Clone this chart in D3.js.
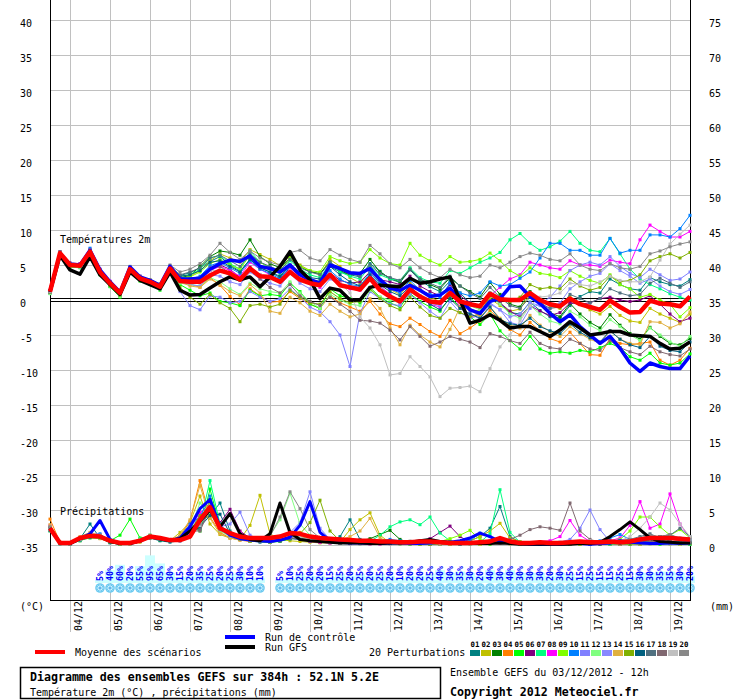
<!DOCTYPE html>
<html><head><meta charset="utf-8">
<script src="https://cdn.jsdelivr.net/npm/d3@7"></script>
<style>
body{margin:0;background:#fff}
svg{display:block}
text{font-family:"DejaVu Sans Mono",monospace;fill:#000}
</style>
</head><body>
<svg id="c" width="740" height="700"></svg>
<script>
// ---------- DATA ----------
const hours = d3.range(0, 385, 6);               // 65 time steps (run 03/12 12h, +0..384h)
const dayHours = [12,36,60,84,108,132,156,180,204,228,252,276,300,324,348,372];
const dateLabels = ["04/12","05/12","06/12","07/12","08/12","09/12","10/12","11/12","12/12","13/12","14/12","15/12","16/12","17/12","18/12","19/12"];
const tempTicks = [40,35,30,25,20,15,10,5,0,-5,-10,-15,-20,-25,-30,-35];
const mmTicks = [75,70,65,60,55,50,45,40,35,30,25,20,15,10,5,0];
const memberNames = ["01","02","03","04","05","06","07","08","09","10","11","12","13","14","15","16","17","18","19","20"];
const memberColors = ["#008080","#c0c000","#008000","#ff8000","#00ff00","#800080","#00ff80","#ff00ff","#80ff00","#0080ff","#8080ff","#80ff80","#8888ff","#e0b040","#80b000","#006080","#507080","#806870","#c0c0c0","#888888"];

// Temperature 2m (°C)
const tMean = [1.2,6.7,5.0,4.9,6.9,4.0,2.4,1.0,4.4,3.1,2.6,1.9,4.5, 2.7,2.6,2.6,3.5, 4.2,3.8,2.9,4.5, 3.4,3.3,2.6,4.0, 2.9,2.4,2.1,3.6, 2.1,1.8,1.5,3.1, 1.4,0.5,-0.2,1.5, 0.5,-0.2,-0.4,1.0, -0.2,-0.6,-0.9,0.9, 0.1,0,0,1.0, 0,-0.6,-0.9,0.2, -0.6,-1.0,-1.4,-0.1, -1.0,-1.8,-1.7,-0.1, -0.5,-0.6,-0.9,0.5];
const tControl = [1.2,6.6,5.1,5.0,7.1,4.3,2.6,1.1,4.7,3.3,2.8,2.1,4.8, 3.0,3.0,3.1,4.4, 5.2,5.7,5.5,6.3, 4.8,4.5,4.0,5.0, 3.6,2.9,2.4,5.0, 4.5,3.9,3.8,4.5, 2.9,1.7,1.4,2.1, 1.4,0.5,0.7,1.7, 0.0,-1.4,-1.9,-0.2, 0.2,1.9,2.0,0.5, -0.5,-1.9,-3.1,-2.1, -3.8,-5.0,-6.2,-5.2, -6.9,-9.0,-10.2,-9.0, -9.5,-9.8,-9.8,-8.0];
const tGFS = [1.2,6.4,4.3,3.7,6.2,3.6,2.2,0.8,4.0,2.8,2.2,1.6,4.0, 1.4,0.7,0.8,1.7, 2.6,3.3,2.9,3.3, 1.9,3.3,4.8,6.9, 4.3,2.9,0.2,1.7, 1.4,0.0,0.0,1.8, 2.1,2.0,1.9,3.1, 2.4,2.6,3.0,3.3, 0.0,-3.3,-2.9,-2.1, -2.9,-4.0,-3.8,-3.8, -4.5,-5.2,-4.3,-3.1, -4.0,-5.0,-4.8,-4.5, -4.5,-5.0,-5.1,-5.2, -6.2,-7.0,-6.9,-6.0];
const tP01 = [1.0,6.5,5.2,5.1,7.2,4.3,2.0,0.6,4.8,3.4,2.8,2.2,4.9, 3.5,3.9,4.6,5.5, 6.2,5.0,4.1,5.8, 4.6,4.0,3.2,5.0, 3.9,3.0,2.6,4.8, 4.0,3.6,3.3,5.2, 4.1,3.0,2.5,4.3, 2.8,1.9,1.2,2.7, 1.0,-0.4,-1.2,1.0, -0.5,-1.8,-2.0,-0.3, -1.5,-2.4,-2.6,-0.8, 0.5,1.2,1.0,3.0, 2.2,1.6,1.4,3.2, 2.6,2.2,2.0,2.9];
const tP02 = [1.3,6.8,5.1,5.0,7.0,4.1,2.6,1.2,4.6,3.3,2.9,2.3,4.2, 3.0,3.4,4.2,5.6, 6.6,6.0,5.4,7.2, 6.5,5.8,4.9,6.3, 5.0,4.2,3.6,5.8, 4.8,3.2,2.4,4.1, 2.6,1.5,0.8,2.4, 1.6,0.4,-0.2,1.2, -0.4,-1.4,-1.6,0.2, -0.8,-1.6,-1.3,0.8, 0.1,-0.9,-1.2,0.5, -0.6,-1.4,-2.0,-0.9, -2.2,-3.0,-3.2,-1.2, -2.0,-2.6,-3.2,-2.0];
const tP03 = [1.1,6.6,4.9,4.8,6.8,4.0,2.3,0.9,4.3,3.0,2.4,1.7,4.4, 3.2,3.5,4.8,6.2, 7.0,6.8,6.4,8.6, 6.2,5.2,4.6,6.0, 4.8,4.0,3.8,5.4, 4.2,3.6,3.8,5.8, 4.0,3.1,2.6,4.4, 3.0,2.2,1.6,3.2, 2.0,1.2,0.4,2.5, 0.8,-0.6,-1.0,1.2, -0.2,-1.8,-2.4,-0.5, -2.0,-3.2,-4.0,-2.1, -3.6,-4.8,-5.6,-3.9, -5.2,-6.2,-6.4,-5.5];
const tP04 = [1.2,6.9,5.2,5.0,6.9,3.8,2.2,0.8,4.2,2.9,2.4,1.8,4.3, 2.6,2.3,1.8,3.2, 2.1,0.5,-0.7,1.6, 0.6,-0.3,-0.2,1.2, 0.2,-0.6,-1.2,0.6, -0.4,-1.0,-1.6,-0.2, -2.0,-3.4,-3.8,-2.6, -3.5,-4.5,-5.2,-2.9, -4.8,-4.0,-3.0,-1.5, -2.8,-4.2,-5.0,-3.2, -4.4,-5.5,-6.0,-4.6, -6.2,-7.8,-7.9,-5.5, -6.2,-6.4,-6.2,-6.0, -8.6,-9.3,-8.6,-6.9];
const tP05 = [1.0,6.4,4.7,4.6,6.6,3.6,1.9,0.4,4.1,2.7,2.2,1.4,4.0, 2.2,1.4,0.6,1.0, -0.2,-0.4,-0.8,1.4, 0.6,0.8,0.6,2.4, 1.2,-0.6,-1.2,1.6, 0.6,0.2,-0.4,1.8, 0.4,-0.4,-1.0,0.9, -0.2,-1.0,-1.6,0.4, -1.0,-2.4,-3.5,-2.0, -4.4,-5.8,-7.0,-5.2, -7.0,-7.6,-7.4,-7.6, -7.2,-7.4,-6.8,-6.2, -6.8,-8.1,-8.6,-7.6, -9.0,-9.3,-9.0,-7.7];
const tP06 = [1.3,6.7,5.3,5.2,7.1,4.2,2.5,1.1,4.5,3.2,2.7,2.0,4.6, 3.0,2.8,2.9,4.2, 5.0,4.4,3.2,4.7, 3.6,3.2,3.0,4.6, 3.4,2.6,2.2,3.9, 2.8,2.4,2.6,4.0, 2.9,2.6,2.2,3.4, 2.0,1.2,0.6,2.2, 0.6,-0.4,-0.8,0.8, -0.4,-1.6,-2.4,-0.8, -1.6,-2.2,-1.8,-0.4, -0.6,-0.4,0.2,0.4, 0.0,-0.2,0.0,0.6, -0.6,-2.0,-3.1,-2.6];
const tP07 = [1.1,6.6,5.0,4.9,6.8,4.1,2.3,0.8,4.4,3.0,2.6,2.0,4.6, 3.4,3.6,4.4,6.0, 6.4,5.2,4.4,7.0, 5.4,4.6,3.8,5.6, 4.4,3.6,3.2,5.2, 4.0,3.4,3.0,4.8, 3.6,3.0,2.8,4.6, 3.2,2.6,2.4,4.2, 3.8,4.6,5.4,6.0, 6.8,8.6,9.5,8.1, 7.1,7.6,8.4,9.8, 8.1,7.1,6.9,8.8, 6.6,4.4,3.0,2.2, 1.6,0.9,0.4,0.0];
const tP08 = [1.4,6.9,5.1,5.2,7.3,4.4,2.7,1.3,4.7,3.4,2.8,2.1,4.8, 3.3,2.8,2.9,4.2, 4.8,4.2,3.4,5.4, 4.4,3.6,2.8,4.4, 3.2,2.4,1.8,3.4, 2.4,1.6,1.4,3.6, 2.0,0.8,-0.4,1.6, 0.4,-0.6,-1.0,1.2, -1.0,-2.4,-2.0,0.6, 1.8,3.0,3.6,5.4, 5.0,4.6,4.4,5.6, 5.0,5.0,4.8,5.7, 5.4,5.2,8.6,10.7, 9.8,9.0,9.0,9.8];
const tP09 = [1.2,6.6,4.9,4.8,6.8,4.0,2.4,1.0,4.4,3.1,2.5,1.9,4.5, 3.1,3.3,4.0,5.2, 5.8,5.0,4.4,6.4, 5.4,4.6,4.2,6.0, 4.8,4.2,4.0,6.2, 5.6,5.2,5.4,7.2, 6.0,5.2,5.0,8.1, 6.4,5.6,5.0,6.2, 5.4,5.5,5.8,6.7, 5.6,4.2,3.4,4.6, 3.8,3.6,3.2,4.2, 3.4,2.8,2.4,3.6, 2.2,1.6,0.4,0.8, 0.0,-0.6,-2.4,-1.1];
const tP10 = [1.2,6.8,5.2,5.0,7.4,4.3,2.5,1.0,4.6,3.2,2.7,2.1,4.7, 3.2,3.0,3.4,4.9, 5.4,4.6,3.8,5.6, 4.4,3.8,3.0,4.8, 3.6,2.8,2.2,4.2, 3.0,2.2,2.0,3.9, 2.4,1.6,1.0,2.8, 1.4,0.8,0.4,2.4, 1.0,0.6,1.0,2.6, 2.0,2.2,3.1,4.0, 6.0,8.1,8.1,7.1, 7.1,6.4,6.4,8.8, 6.7,7.1,7.1,9.3, 9.3,9.0,10.2,12.1];
const tP11 = [1.0,6.5,4.8,4.7,6.7,3.9,2.2,0.7,4.2,2.9,2.3,1.6,4.2, 1.2,-0.8,-1.4,0.6, 0.4,-0.4,-0.2,1.2, 0.4,-0.2,0.2,1.6, 0.4,-1.0,-1.7,-3.1, -5.0,-9.5,-1.9,1.2, 0.2,-0.6,-0.8,1.4, 0.6,-0.4,-0.8,1.6, 0.2,-1.8,-2.8,-0.6, -1.4,-3.2,-3.6,-1.2, -0.6,0.4,2.0,4.2, 5.0,5.4,5.0,6.2, 4.8,3.8,3.2,4.4, 3.6,2.8,3.0,4.0];
const tP12 = [0.9,6.3,4.8,4.7,6.5,3.7,2.0,0.5,4.0,2.8,2.3,1.6,4.2, 2.4,2.2,2.0,3.2, 2.6,1.6,0.8,2.4, 1.6,1.2,1.0,2.6, 1.0,-0.2,-1.2,0.8, 0.0,-0.6,-0.8,1.4, 0.4,0.0,-0.4,1.2, 0.6,0.0,-0.4,1.6, 0.2,-0.8,-1.4,0.6, -0.6,-2.0,-2.6,-0.8, -2.0,-3.0,-3.4,-1.6, -2.4,-3.6,-4.4,-2.8, -3.8,-5.0,-5.8,-4.0, -5.0,-6.0,-6.6,-5.2];
const tP13 = [1.3,6.7,5.0,5.0,6.9,4.0,2.5,1.0,4.4,3.0,2.7,1.9,4.4, 2.6,2.2,2.0,3.6, 3.4,2.6,2.2,4.0, 3.0,2.4,2.0,3.8, 2.4,1.6,1.2,3.0, 2.2,1.8,2.0,3.6, 2.0,0.6,-0.6,0.8, -0.4,-1.6,-2.6,-0.2, -1.8,-2.6,-2.2,-0.4, -1.4,-2.4,-2.0,-0.4, -0.8,-1.2,-0.4,1.6, 2.6,3.4,3.8,5.2, 4.2,3.4,2.4,3.0, 2.0,1.2,0.8,1.5];
const tP14 = [1.2,6.8,5.1,4.9,6.9,3.9,2.3,0.9,4.3,3.0,2.5,1.8,4.3, 2.6,2.0,1.8,3.0, 2.2,1.2,0.6,2.2, 1.0,-1.6,-1.9,0.4, -0.4,-1.6,-2.2,-0.6, -1.6,-2.4,-2.0,0.2, -1.2,-4.0,-6.4,-3.6, -5.0,-6.0,-6.7,-4.2, -1.0,-1.4,-2.4,-1.0, -2.6,-3.6,-4.0,-2.2, -3.6,-4.5,-5.2,-3.8, -4.8,-5.6,-6.2,-4.4, -5.6,-6.2,-6.4,-3.1, -3.2,-4.0,-3.4,-1.7];
const tP15 = [1.1,6.5,4.8,4.8,6.7,3.8,2.1,0.7,4.2,2.9,2.4,1.7,4.1, 1.8,0.4,-0.6,0.8, -0.4,-1.2,-3.1,-0.8, -0.6,-1.0,-0.6,1.4, 0.4,-0.4,-0.6,1.2, 0.2,-0.4,-0.2,1.6, 0.2,-0.8,-1.4,0.4, -1.0,-2.2,-2.6,-1.2, -1.8,-2.4,-2.0,0.6, 0.4,-0.2,0.4,2.2, 1.6,1.8,1.6,3.0, 2.0,1.4,1.8,3.4, 2.6,2.8,3.6,5.6, 6.2,6.6,6.0,6.8];
const tP16 = [1.2,6.7,5.0,4.9,6.9,4.0,2.4,1.0,4.4,3.1,2.6,1.9,4.5, 3.4,3.6,4.2,5.4, 5.6,4.8,4.0,5.8, 4.6,4.0,3.4,5.0, 3.8,3.2,3.0,4.8, 3.6,2.6,2.0,3.6, 2.2,1.2,0.6,2.0, 0.4,-0.6,-1.4,0.2, -1.2,-2.0,-2.6,-1.0, -2.8,-3.4,-3.6,-2.6, -3.8,-4.4,-4.8,-3.4, -4.6,-5.4,-6.0,-4.4, -5.6,-6.4,-6.8,-5.2, -6.6,-7.2,-7.4,-6.0];
const tP17 = [1.3,6.9,5.2,5.1,7.1,4.2,2.6,1.2,4.6,3.3,2.8,2.1,4.7, 3.6,4.0,4.6,6.0, 6.4,5.6,4.8,6.6, 5.4,4.8,4.2,5.8, 4.6,4.0,3.6,5.4, 4.4,3.8,3.4,5.0, 3.8,3.2,2.8,4.4, 3.0,2.4,1.8,3.4, 2.0,1.0,0.2,1.8, 0.4,-0.8,-1.2,0.4, -0.4,-1.2,-1.0,0.8, 0.2,-0.4,0.2,1.6, 1.0,0.6,0.8,2.4, 3.1,2.4,1.8,2.6];
const tP18 = [1.1,6.6,4.9,4.9,6.8,3.9,2.3,0.9,4.3,3.0,2.5,1.8,4.4, 3.0,2.8,3.2,4.6, 4.8,3.8,2.8,4.2, 3.0,1.8,1.0,2.2, 0.6,-0.2,-0.8,0.4, -0.6,-1.6,-2.9,-3.0, -3.3,-4.3,-5.7,-3.8, -5.2,-6.6,-6.0,-5.2, -5.6,-6.0,-6.8,-4.8, -5.2,-5.8,-6.2,-4.6, -6.2,-6.8,-7.0,-5.6, -6.2,-7.0,-7.2,-5.8, -6.8,-7.4,-7.8,-6.6, -7.4,-7.8,-8.0,-7.0];
const tP19 = [1.2,6.7,5.1,5.0,7.0,4.1,2.4,1.0,4.5,3.2,2.7,2.0,4.6, 3.0,2.6,2.8,4.2, 4.2,3.4,2.8,4.4, 3.6,3.0,2.6,4.2, 3.2,2.6,2.2,3.8, 2.4,1.0,-2.4,-4.0, -6.4,-10.7,-10.5,-8.1, -9.5,-11.0,-13.8,-12.6, -12.5,-12.3,-13.1,-9.8, -6.7,-5.0,-3.0,-0.8, 0.4,0.6,1.0,2.4, 2.2,2.0,2.6,3.4, 2.8,2.6,2.6,3.3, 5.7,8.0,9.4,10.7];
const tP20 = [1.3,6.8,5.1,5.1,7.2,4.4,2.6,1.1,4.7,3.4,2.9,2.2,5.0, 4.0,4.4,5.2,6.4, 8.1,6.8,5.8,7.0, 6.0,5.4,5.0,6.8, 7.1,6.0,5.6,7.2, 6.4,5.8,5.4,7.8, 6.6,5.2,4.6,5.8, 4.6,3.8,3.2,4.4, 3.6,3.2,3.4,5.0, 4.6,5.4,6.2,6.7, 6.4,5.8,5.6,6.6, 5.0,4.4,4.2,5.2, 4.6,4.4,4.8,6.6, 7.0,7.6,8.0,8.3];

// Precipitation (mm per 6h)
const pMean = [2.4,0.3,0.3,1.0,1.3, 1.2,0.6,0.3,0.3,0.6, 1.2,1.0,0.7,0.7,1.2, 3.6,5.4,2.4,1.7,1.2, 1.0,1.0,1.0,1.2,1.7, 1.6,1.2,1.0,0.9,0.8, 0.7,0.6,0.6,0.5,0.5, 0.4,0.4,0.5,0.5,0.4, 0.3,0.3,0.3,0.4,0.5, 1.0,0.5,0.3,0.3,0.4, 0.3,0.3,0.4,0.5,0.4, 0.4,0.5,0.4,0.5,0.8, 1.0,1.0,1.0,0.9,0.8];
const pControl = [2.3,0.3,0.2,0.9,1.6, 3.5,0.8,0.2,0.2,0.6, 1.2,0.9,0.6,1.0,2.6, 5.2,6.5,2.6,1.4,0.9, 0.7,0.6,0.5,0.7,1.1, 2.8,6.2,1.8,0.6,0.4, 0.3,0.3,0.2,0.2,0.3, 0.3,0.2,0.2,0.3,0.4, 0.4,0.6,1.0,1.7,1.2, 0.5,0.3,0.2,0.1,0.1, 0.1,0.1,0.2,0.2,0.1, 0.2,0.3,0.6,0.4,0.3, 0.2,0.2,0.3,0.2,0.3];
const pGFS = [2.4,0.3,0.2,0.9,1.4, 1.2,0.5,0.2,0.2,0.6, 1.2,0.9,0.6,0.9,2.0, 3.4,5.0,2.6,4.5,1.6, 0.8,0.6,1.6,6.0,1.8, 0.8,0.6,0.5,0.4,0.3, 0.3,0.3,0.2,0.2,0.3, 0.3,0.4,0.6,0.8,0.5, 0.4,0.3,0.3,0.2,0.2, 0.3,0.2,0.1,0.1,0.1, 0.1,0.1,0.1,0.2,0.2, 0.4,1.2,2.2,3.3,2.2, 1.0,0.5,0.4,0.3,0.3];
const pP01 = [2.0,0.2,0.1,0.9,3.0, 1.0,0.3,0.1,0.2,0.5, 1.0,0.6,0.4,0.6,1.5, 3.5,4.2,6.0,2.0,1.0, 0.6,0.4,0.5,0.8,1.2, 1.0,0.6,0.4,0.5,1.2, 3.6,0.8,0.3,0.2,0.4, 0.3,0.2,0.1,0.2,0.3, 0.2,0.3,0.6,1.2,2.4, 5.5,1.2,0.4,0.2,0.1, 0.1,0.2,0.1,0.2,0.1, 0.2,0.3,0.2,0.4,0.3, 0.8,1.2,1.5,0.8,0.5];
const pP02 = [2.6,0.3,0.2,1.0,1.6, 1.3,0.5,0.2,0.1,0.4, 1.3,1.0,0.6,1.8,3.2, 7.0,3.0,1.5,1.0,0.8, 2.8,7.1,1.6,0.8,0.6, 0.5,0.4,0.3,0.3,0.4, 2.2,3.6,4.6,1.4,0.3, 0.2,0.2,0.1,0.1,0.2, 0.3,0.4,0.6,1.2,2.0, 3.1,1.0,0.5,0.3,0.2, 0.2,0.1,0.1,0.2,0.1, 0.1,0.2,0.1,0.2,0.2, 0.3,0.4,0.3,0.2,0.2];
const pP03 = [2.3,0.3,0.2,0.6,1.2, 1.4,0.4,0.1,0.3,0.8, 1.4,0.9,0.5,0.9,2.2, 2.4,6.5,2.8,1.2,0.8, 0.6,0.5,0.4,0.6,1.0, 0.9,0.6,0.5,0.4,0.4, 0.4,0.6,0.9,1.5,2.1, 0.8,0.3,0.2,0.1,0.1, 0.1,0.1,0.2,0.2,0.3, 0.6,0.4,0.2,0.1,0.1, 0.1,0.1,0.2,0.3,0.4, 0.5,0.3,0.2,0.2,0.1, 0.2,0.3,0.2,0.3,0.2];
const pP04 = [3.7,0.4,0.2,0.8,1.1, 0.9,0.4,0.1,0.2,0.5, 1.0,0.8,0.6,1.2,3.4, 9.2,4.0,1.8,1.0,0.7, 0.5,0.6,0.8,1.2,1.6, 1.8,1.2,0.8,0.6,0.4, 0.3,0.3,0.2,0.3,0.3, 0.2,0.2,0.3,0.4,0.2, 0.1,0.1,0.2,0.1,0.2, 0.4,0.2,0.1,0.1,0.1, 0.2,0.1,0.1,0.1,0.2, 0.1,0.1,0.2,0.1,0.2, 0.3,0.2,0.2,0.1,0.1];
const pP05 = [2.2,0.2,0.2,0.7,1.0, 1.0,0.6,1.4,3.7,1.0, 1.1,0.7,0.5,0.8,2.6, 2.0,8.0,2.6,1.4,0.9, 0.6,0.5,0.4,0.5,0.9, 1.2,0.8,0.6,0.4,0.3, 0.3,0.2,0.3,0.4,0.3, 0.2,0.1,0.2,0.2,0.3, 0.3,0.2,0.2,0.1,0.1, 0.5,0.2,0.1,0.1,0.1, 0.1,0.1,0.1,0.2,0.1, 0.2,0.1,0.1,0.1,0.2, 0.2,0.1,0.2,0.1,0.1];
const pP06 = [2.5,0.3,0.3,1.1,1.5, 1.2,0.5,0.2,0.2,0.5, 1.3,0.9,0.5,0.6,1.8, 4.0,4.8,3.2,5.1,2.0, 1.0,0.6,0.5,0.8,1.2, 1.0,0.6,0.4,0.3,0.3, 0.2,0.3,0.3,0.2,0.2, 0.3,0.4,0.6,0.9,1.8, 2.7,1.2,0.4,0.2,0.2, 0.3,0.2,0.2,0.1,0.1, 0.1,0.2,0.3,0.2,0.1, 0.1,0.2,0.1,0.2,0.3, 0.5,0.4,0.3,0.2,0.2];
const pP07 = [2.1,0.2,0.2,0.8,1.2, 1.1,0.4,0.1,0.3,0.9, 1.2,0.8,0.5,0.8,2.0, 3.0,9.2,3.0,1.2,0.8, 0.6,0.5,0.4,0.7,1.2, 1.0,0.7,0.5,0.4,0.3, 0.2,0.3,0.5,1.4,2.6, 3.3,3.6,2.9,4.0,1.7, 0.6,0.3,0.2,0.4,1.6, 7.9,1.8,0.4,0.2,0.1, 0.1,0.2,0.1,0.1,0.2, 0.2,0.1,0.2,0.3,0.2, 0.3,0.2,0.2,0.1,0.1];
const pP08 = [2.8,0.3,0.2,1.0,1.7, 1.5,0.6,0.2,0.3,0.6, 1.1,0.9,0.7,1.0,2.4, 4.6,5.8,2.2,4.4,1.8, 0.8,0.6,0.4,0.6,1.0, 0.8,0.5,0.4,0.3,0.3, 0.2,0.2,0.1,0.1,0.2, 0.3,0.2,0.4,0.5,0.4, 0.3,0.2,0.3,0.4,0.6, 0.4,0.3,0.2,0.3,0.5, 0.6,1.2,3.5,1.4,0.5, 0.4,0.6,1.0,2.8,6.2, 2.4,3.0,7.3,3.0,1.0];
const pP09 = [2.4,0.3,0.2,0.9,1.3, 1.2,0.5,0.2,0.2,0.6, 1.2,1.0,0.6,1.0,2.6, 3.2,6.0,2.6,1.4,1.0, 0.8,0.6,0.5,0.7,1.0, 0.9,0.7,0.5,0.4,0.4, 0.3,0.3,0.2,0.2,0.3, 0.2,0.2,0.2,0.3,0.5, 0.9,1.4,2.1,0.8,0.3, 0.4,0.2,0.2,0.1,0.1, 0.2,0.1,0.1,0.2,0.3, 0.5,0.4,0.8,2.0,4.0, 4.0,2.6,1.4,2.2,1.0];
const pP10 = [2.2,0.2,0.2,0.7,1.4, 1.6,0.5,0.2,0.2,0.5, 1.1,0.8,0.6,1.2,3.0, 4.0,7.0,2.8,1.4,0.9, 0.7,0.5,0.4,0.6,0.9, 1.0,0.9,0.7,0.5,0.4, 0.3,0.4,0.5,0.6,0.8, 0.6,0.4,0.3,0.2,0.2, 0.3,0.4,0.6,1.7,1.2, 0.6,0.3,0.2,0.1,0.2, 0.2,0.1,0.1,0.3,0.4, 0.6,1.0,1.5,0.8,0.4, 0.3,0.4,0.5,0.3,0.2];
const pP11 = [2.5,0.3,0.2,1.0,1.5, 1.3,0.5,0.2,0.2,0.7, 1.3,0.9,0.6,0.8,1.6, 3.2,5.5,2.6,3.0,4.7, 1.4,0.8,0.6,0.9,1.8, 3.2,7.6,2.4,0.8,0.5, 0.4,0.4,0.3,0.3,0.2, 0.2,0.2,0.2,0.3,0.3, 0.2,0.2,0.3,0.3,0.4, 0.6,0.4,0.3,0.2,0.2, 0.3,0.4,0.8,2.4,5.0, 2.2,0.5,0.3,0.2,0.2, 0.3,0.4,0.3,0.5,0.8];
const pP12 = [2.0,0.2,0.2,0.6,1.1, 1.0,0.4,0.2,0.3,0.8, 1.4,1.0,0.7,1.0,2.2, 6.0,4.6,2.0,1.2,0.9, 0.8,0.9,1.4,3.6,7.4, 3.0,1.4,0.8,0.5,0.4, 0.3,0.2,0.2,0.3,0.2, 0.2,0.2,0.1,0.2,0.2, 0.2,0.3,0.3,0.4,0.5, 0.4,0.3,0.2,0.2,0.2, 0.2,0.3,0.2,0.3,0.4, 0.3,0.2,0.3,0.4,0.3, 0.4,0.3,0.4,0.5,0.6];
const pP13 = [2.3,0.3,0.2,0.8,1.3, 1.2,0.5,0.2,0.2,0.6, 1.2,0.8,0.6,1.0,2.8, 3.8,5.0,2.2,1.3,0.9, 0.7,0.6,0.5,0.7,1.1, 1.0,0.7,0.5,0.5,0.4, 0.4,0.3,0.3,0.4,0.5, 0.4,0.3,0.2,0.2,0.2, 0.3,0.2,0.2,0.3,0.3, 0.5,0.3,0.2,0.2,0.1, 0.2,0.2,0.3,0.2,0.2, 0.3,0.2,0.2,0.3,0.3, 0.2,0.3,0.3,0.2,0.6];
const pP14 = [2.9,0.4,0.3,1.2,1.8, 1.4,0.6,0.3,0.2,0.5, 1.0,0.9,0.6,1.4,3.6, 8.5,3.8,1.6,1.0,0.7, 0.6,0.8,1.0,1.2,1.4, 1.2,0.8,0.6,0.5,0.7, 1.2,2.0,3.8,1.0,0.4, 0.3,0.2,0.2,0.1,0.1, 0.1,0.2,0.2,0.1,0.2, 0.3,0.2,0.1,0.1,0.1, 0.1,0.2,0.1,0.1,0.2, 0.1,0.2,0.1,0.2,0.1, 0.2,0.3,0.2,0.1,0.2];
const pP15 = [2.4,0.3,0.2,0.8,1.2, 1.1,0.4,0.1,0.2,0.5, 1.1,0.8,0.5,0.7,2.0, 4.2,5.0,2.4,1.2,0.8, 0.6,0.5,0.4,0.6,1.0, 1.6,3.2,6.4,2.0,0.6, 0.4,0.3,0.2,0.2,0.2, 0.2,0.2,0.1,0.1,0.2, 0.2,0.3,0.2,0.2,0.3, 0.4,0.3,0.2,0.1,0.1, 0.1,0.2,0.2,0.1,0.2, 0.2,0.2,0.3,0.2,0.2, 0.3,0.3,0.4,0.3,0.2];
const pP16 = [2.1,0.2,0.2,0.7,1.1, 1.1,0.4,0.2,0.2,0.5, 1.0,0.7,0.5,0.8,2.4, 2.6,4.2,4.4,1.6,1.0, 0.7,0.6,0.5,0.6,0.9, 0.8,0.6,0.5,0.4,0.3, 0.3,0.3,0.2,0.2,0.3, 0.2,0.2,0.3,0.2,0.2, 0.2,0.1,0.2,0.3,0.4, 0.6,0.3,0.2,0.1,0.1, 0.1,0.1,0.2,0.2,0.1, 0.1,0.2,0.2,0.3,0.4, 0.6,1.2,0.5,0.4,0.3];
const pP17 = [2.2,0.2,0.2,0.8,1.2, 1.2,0.5,0.2,0.2,0.5, 1.1,0.8,0.6,0.9,2.2, 2.2,5.6,2.4,1.3,0.9, 0.7,0.5,0.5,0.7,1.0, 0.9,0.6,0.5,0.4,0.3, 0.3,0.2,0.2,0.3,0.3, 0.2,0.3,0.3,0.2,0.2, 0.2,0.2,0.3,0.3,0.3, 0.4,0.3,0.3,0.2,0.2, 0.2,0.3,0.2,0.3,0.3, 0.4,0.5,0.6,0.8,1.2, 1.6,1.0,1.4,2.4,1.2];
const pP18 = [2.3,0.3,0.2,0.9,1.4, 1.2,0.5,0.2,0.3,0.6, 1.2,0.9,0.6,0.9,2.0, 2.0,5.2,2.4,1.3,0.9, 0.7,0.6,0.5,0.7,1.0, 0.9,0.7,0.5,0.4,0.3, 0.3,0.2,0.2,0.2,0.3, 0.3,0.2,0.3,0.4,0.3, 0.4,0.3,0.3,0.4,0.4, 0.6,0.8,1.4,2.2,2.6, 2.4,2.1,6.0,2.0,0.8, 0.4,0.3,0.3,0.4,0.4, 0.5,0.6,0.8,0.6,0.4];
const pP19 = [2.2,0.3,0.2,0.8,1.3, 1.2,0.5,0.2,0.2,0.6, 1.2,0.9,0.6,0.9,2.2, 2.8,5.6,2.4,1.2,0.9, 0.7,0.6,0.5,0.8,1.2, 1.1,0.8,0.6,0.4,0.3, 0.3,0.3,0.2,0.3,0.4, 0.4,0.6,0.5,0.3,0.2, 0.3,0.2,0.3,0.4,0.6, 0.8,0.5,0.3,0.2,0.2, 0.3,0.4,0.3,0.4,0.6, 0.5,0.4,0.6,1.2,2.4, 4.0,6.0,5.0,3.0,1.2];
const pP20 = [2.6,0.3,0.2,1.0,1.5, 1.3,0.5,0.2,0.2,0.6, 1.3,0.9,0.6,1.1,2.6, 3.0,5.2,2.2,1.3,0.9, 0.8,0.7,1.2,4.0,7.6, 5.2,2.2,1.0,0.6,0.4, 0.3,0.3,0.2,0.2,0.3, 0.3,0.2,0.2,0.3,0.4, 0.3,0.2,0.3,0.4,0.5, 0.6,0.4,0.3,0.2,0.2, 0.3,0.3,0.4,0.3,0.4, 0.4,0.5,0.6,0.8,1.0, 1.4,1.2,1.5,1.0,0.8];

// Probability of precipitation (%) per 6h step (null = none)
const rainPct = [null,null,null,null,null, 5,40,60,20,55,95,65,30,15,20,35,25,20,25,30,10,10, null,
  5,10,25,20,20,15,25,20,25,20,25,
  20,10,20,20,25,40,30,35,30,20,40,30,40,30,30,30,20,30,25,15,25,15,15,25,15,30,30,35,35,30,20];

const tPert = [tP01,tP02,tP03,tP04,tP05,tP06,tP07,tP08,tP09,tP10,tP11,tP12,tP13,tP14,tP15,tP16,tP17,tP18,tP19,tP20];
const pPert = [pP01,pP02,pP03,pP04,pP05,pP06,pP07,pP08,pP09,pP10,pP11,pP12,pP13,pP14,pP15,pP16,pP17,pP18,pP19,pP20];

// ---------- DRAW ----------
const svg = d3.select('#c');
const x = d3.scaleLinear().domain([0, 384]).range([50, 690]);
const yT = d3.scaleLinear().domain([-40, 40]).range([580, 20]);
const yP = d3.scaleLinear().domain([0, 10]).range([545, 475]);
const px = v => Math.round(v) + 0.5;
const GRID = '#c0c0c0';

// grid
const g = svg.append('g');
g.selectAll('line.h').data(tempTicks.filter(t => t !== 0)).join('line')
  .attr('x1', 50).attr('x2', 690).attr('y1', d => px(yT(d))).attr('y2', d => px(yT(d)))
  .attr('stroke', GRID).attr('stroke-width', 1);
g.selectAll('line.v').data(dayHours).join('line')
  .attr('x1', d => px(x(d))).attr('x2', d => px(x(d))).attr('y1', 0).attr('y2', 632)
  .attr('stroke', GRID).attr('stroke-width', 1);

// precipitation probability bars + icons
const pp = svg.append('g');
const pctData = rainPct.map((v, i) => ({v, i})).filter(d => d.v !== null);
pp.selectAll('rect').data(pctData).join('rect')
  .attr('x', d => x(hours[d.i]) - 5).attr('width', 10)
  .attr('y', d => 583 - (d.v * 0.27 + 2)).attr('height', d => d.v * 0.27 + 2)
  .attr('fill', '#ccffff');
const icons = pp.selectAll('g.ic').data(pctData).join('g')
  .attr('transform', d => `translate(${x(hours[d.i])},588)`);
icons.append('circle').attr('r', 4.8).attr('fill', '#6ccaf0');
icons.append('path').attr('d', 'M-3.5,0H3.5M0,-3.5V3.5M-2.4,-2.4L2.4,2.4M-2.4,2.4L2.4,-2.4')
  .attr('stroke', '#d4f2ff').attr('stroke-width', 1);
icons.append('circle').attr('r', 1.1).attr('fill', '#4aa6e6');
pp.selectAll('text').data(pctData).join('text')
  .attr('transform', d => `translate(${x(hours[d.i]) + 2.8},581) rotate(-90)`)
  .attr('font-size', 8.4).attr('font-weight', 'bold').style('fill', '#0000ff')
  .text(d => d.v + '%');

// frame
svg.append('line').attr('x1', 50.5).attr('x2', 50.5).attr('y1', 0).attr('y2', 600).attr('stroke', '#000');
svg.append('line').attr('x1', 690.5).attr('x2', 690.5).attr('y1', 0).attr('y2', 600).attr('stroke', '#000');
svg.append('line').attr('x1', 50).attr('x2', 691).attr('y1', 600.5).attr('y2', 600.5).attr('stroke', '#000');
svg.append('line').attr('x1', 50).attr('x2', 691).attr('y1', px(yT(0)) - 2).attr('y2', px(yT(0)) - 2).attr('stroke', '#000');
svg.append('line').attr('x1', 50).attr('x2', 691).attr('y1', px(yT(0)) + 1).attr('y2', px(yT(0)) + 1).attr('stroke', '#000');

// axis labels
svg.append('g').selectAll('text').data(tempTicks).join('text')
  .attr('x', 20).attr('y', d => yT(d) + 7).attr('font-size', 10).text(d => d);
svg.append('g').selectAll('text').data(mmTicks).join('text')
  .attr('x', 709).attr('y', d => yP(d) + 7).attr('font-size', 10).text(d => d);
svg.append('text').attr('x', 20).attr('y', 610).attr('font-size', 10).text('(°C)');
svg.append('text').attr('x', 710).attr('y', 610).attr('font-size', 10).text('(mm)');
svg.append('g').selectAll('text').data(dayHours).join('text')
  .attr('transform', (d, i) => `translate(${x(d) + 11.5},631) rotate(-90)`)
  .attr('font-size', 10).text((d, i) => dateLabels[i]);
svg.append('text').attr('x', 60).attr('y', 243).attr('font-size', 10).text('Températures 2m');
svg.append('text').attr('x', 60).attr('y', 515).attr('font-size', 10).text('Précipitations');

// series
const lineT = d3.line().x((d, i) => x(hours[i])).y(d => yT(d));
const lineP = d3.line().x((d, i) => x(hours[i])).y(d => yP(d));
const series = svg.append('g');
function member(arr, yS, line, color) {
  series.append('path').attr('d', line(arr)).attr('fill', 'none').attr('stroke', color).attr('stroke-width', 1);
  series.append('g').selectAll('rect').data(arr).join('rect')
    .attr('x', (d, i) => x(hours[i]) - 1.5).attr('y', d => yS(d) - 1.5)
    .attr('width', 3).attr('height', 3).attr('fill', color);
}
tPert.forEach((s, k) => member(s, yT, lineT, memberColors[k]));
pPert.forEach((s, k) => member(s, yP, lineP, memberColors[k]));
function thick(arr, line, color, w) {
  series.append('path').attr('d', line(arr)).attr('fill', 'none').attr('stroke', color)
    .attr('stroke-width', w).attr('stroke-linejoin', 'round');
}
thick(tControl, lineT, '#0000ff', 3.5); thick(pControl, lineP, '#0000ff', 3);
thick(tGFS, lineT, '#000000', 3.5); thick(pGFS, lineP, '#000000', 3);
thick(tMean, lineT, '#ff0000', 4.5); thick(pMean, lineP, '#ff0000', 4.5);

// legend
const lg = svg.append('g');
lg.append('rect').attr('x', 35).attr('y', 650).attr('width', 30).attr('height', 4).attr('fill', '#ff0000');
lg.append('text').attr('x', 75).attr('y', 656).attr('font-size', 10).text('Moyenne des scénarios');
lg.append('rect').attr('x', 225).attr('y', 635).attr('width', 30).attr('height', 4).attr('fill', '#0000ff');
lg.append('text').attr('x', 265).attr('y', 641).attr('font-size', 10).text('Run de contrôle');
lg.append('rect').attr('x', 225).attr('y', 645).attr('width', 30).attr('height', 4).attr('fill', '#000000');
lg.append('text').attr('x', 265).attr('y', 651).attr('font-size', 10).text('Run GFS');
lg.append('text').attr('x', 369).attr('y', 656).attr('font-size', 10).text('20 Perturbations');
lg.selectAll('rect.sw').data(memberColors).join('rect')
  .attr('x', (d, i) => 470 + i * 11).attr('y', 650).attr('width', 10).attr('height', 6).attr('fill', d => d);
lg.selectAll('text.sw').data(memberNames).join('text')
  .attr('x', (d, i) => 475 + i * 11).attr('y', 647).attr('text-anchor', 'middle')
  .attr('font-size', 7.4).attr('font-weight', 'bold').text(d => d);

// title box
svg.append('rect').attr('x', 20.5).attr('y', 667.5).attr('width', 420).attr('height', 31)
  .attr('fill', 'none').attr('stroke', '#000').attr('stroke-width', 1.5);
svg.append('text').attr('x', 30).attr('y', 681).attr('font-size', 11.6).attr('font-weight', 'bold')
  .text('Diagramme des ensembles GEFS sur 384h : 52.1N 5.2E');
svg.append('text').attr('x', 30).attr('y', 695.5).attr('font-size', 10)
  .text('Température 2m (°C) , précipitations (mm)');
svg.append('text').attr('x', 450).attr('y', 676).attr('font-size', 10)
  .text('Ensemble GEFS du 03/12/2012 - 12h');
svg.append('text').attr('x', 450).attr('y', 696).attr('font-size', 11.6).attr('font-weight', 'bold')
  .text('Copyright 2012 Meteociel.fr');
</script>
</body></html>
